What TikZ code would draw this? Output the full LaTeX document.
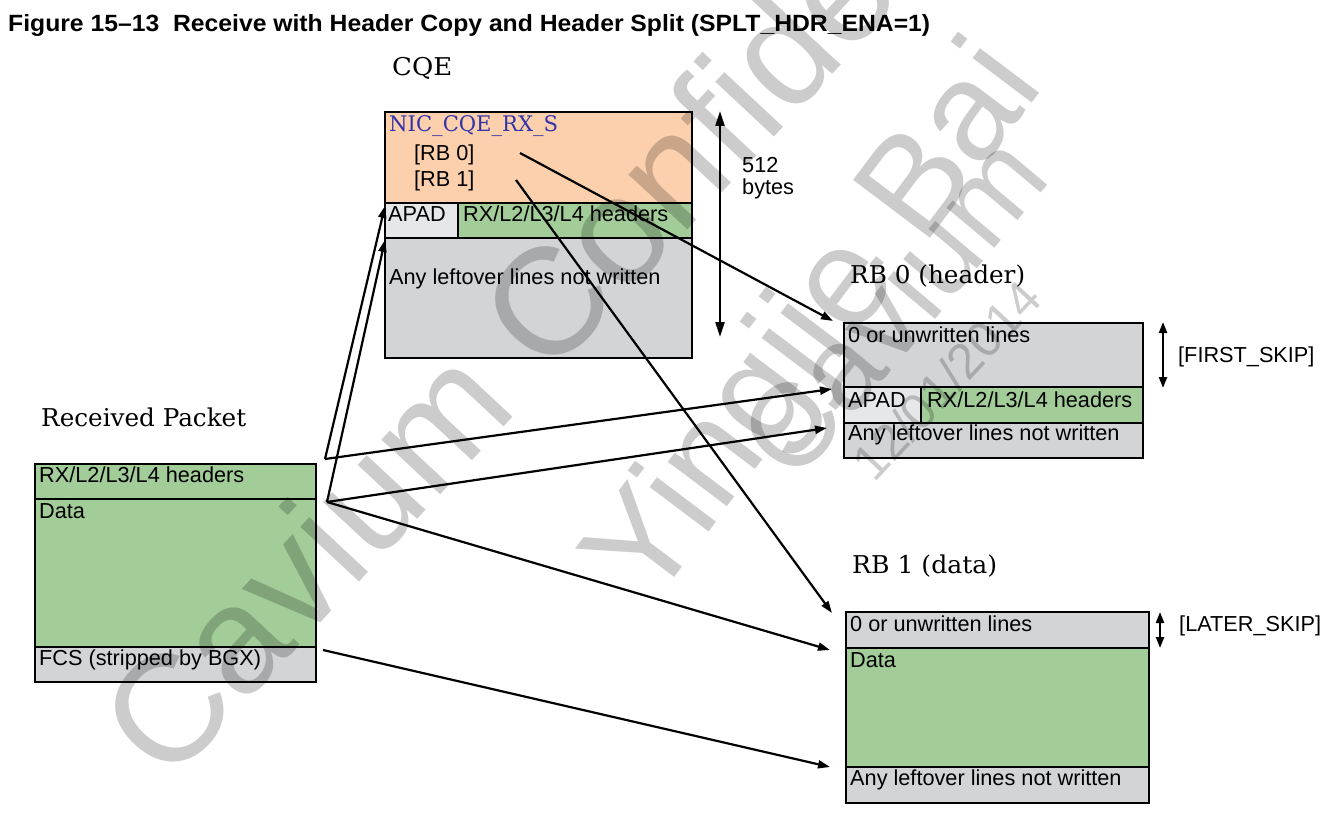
\documentclass[tikz,border=0pt]{standalone}
\usepackage{fontspec}
\usepackage{graphicx}
\newfontfamily\sansf{Liberation Sans}
\newfontfamily\serf{DejaVu Serif}
\usetikzlibrary{arrows.meta}
\definecolor{cqorange}{RGB}{252,208,172}
\definecolor{pkgreen}{RGB}{162,204,152}
\definecolor{bxgray}{RGB}{211,212,214}
\definecolor{bxlight}{RGB}{230,231,233}
\definecolor{nicblue}{RGB}{51,51,170}
\begin{document}
\begin{tikzpicture}[x=1pt,y=-1pt,
  rowbox/.style={draw=black, line width=2pt, inner sep=0pt, anchor=north west},
  lbl/.style={anchor=base west, inner sep=0pt, font=\sansf\fontsize{21.7}{26}\selectfont},
  ser/.style={anchor=base west, inner sep=0pt, font=\serf\fontsize{24.5}{30}\selectfont},
  ttl/.style={anchor=base west, inner sep=0pt, font=\sansf\bfseries\fontsize{23.5}{28}\selectfont},
  arr/.style={line width=2.2pt, -{Triangle[length=12pt,width=8pt]}},
  dblarr/.style={line width=2.2pt, {Triangle[length=15pt,width=9pt]}-{Triangle[length=15pt,width=9pt]}},
  smarr/.style={line width=2.2pt, {Triangle[length=11pt,width=8pt]}-{Triangle[length=11pt,width=8pt]}},
  wm/.style={text=black, text opacity=0.2, anchor=base west, inner sep=0pt}]
\useasboundingbox (0,0) rectangle (1343,818);
\fill[white] (0,0) rectangle (1343,818);

% title
\node[ttl] (title) at (8,32) {\resizebox{922pt}{\height}{Figure 15\textendash 13\ \ Receive with Header Copy and Header Split (SPLT\_HDR\_ENA=1)}};

% ---------- CQE ----------
\node[ser] (lcqe) at (392,76) {\resizebox{60pt}{\height}{CQE}};
\node[rowbox, fill=cqorange, minimum width=307pt, minimum height=91pt] (cqh) at (384,111) {};
\node[rowbox, fill=bxlight, minimum width=73pt, minimum height=35pt] (cqa) at (384,202) {};
\node[rowbox, fill=pkgreen, minimum width=234pt, minimum height=35pt] (cqr) at (457,202) {};
\node[rowbox, fill=bxgray, minimum width=307pt, minimum height=120pt] (cql) at (384,237) {};
\node[ser, text=nicblue, font=\serf\fontsize{21.5}{28}\selectfont] (tnic) at (389,132) {\resizebox{169pt}{\height}{NIC\_CQE\_RX\_S}};
\node[lbl] (trb0) at (414,161) {[RB 0]};
\node[lbl] (trb1) at (414,187) {[RB 1]};
\node[lbl] (tcqa) at (388,222) {APAD};
\node[lbl] (tcqr) at (463,222) {RX/L2/L3/L4 headers};
\node[lbl] (tcql) at (389,284) {Any leftover lines not written};
\coordinate (b512t) at (720,111);
\coordinate (b512b) at (720,337);
\draw[dblarr] (b512t) -- (b512b);
\node[lbl] (t512) at (742,173) {512};
\node[lbl] (tbytes) at (742,195) {bytes};

% ---------- RB0 ----------
\node[ser] (lrb0) at (850,283) {\resizebox{175pt}{\height}{RB 0 (header)}};
\node[rowbox, fill=bxgray, minimum width=299pt, minimum height=64pt] (r0u) at (843,322) {};
\node[rowbox, fill=bxlight, minimum width=77pt, minimum height=36pt] (r0a) at (843,386) {};
\node[rowbox, fill=pkgreen, minimum width=222pt, minimum height=36pt] (r0h) at (920,386) {};
\node[rowbox, fill=bxgray, minimum width=299pt, minimum height=35pt] (r0l) at (843,422) {};
\node[lbl] (tr0u) at (848,342) {0 or unwritten lines};
\node[lbl] (tr0a) at (848,407) {APAD};
\node[lbl] (tr0h) at (927,407) {RX/L2/L3/L4 headers};
\node[lbl] (tr0l) at (848,440) {Any leftover lines not written};
\coordinate (fst) at (1163,322);
\coordinate (fsb) at (1163,388);
\draw[smarr] (fst) -- (fsb);
\node[lbl] (tfs) at (1178,362) {[FIRST\_SKIP]};

% ---------- Received packet ----------
\node[ser] (lpk) at (41,426) {\resizebox{205pt}{\height}{Received Packet}};
\node[rowbox, fill=pkgreen, minimum width=281pt, minimum height=35pt] (pkh) at (34,463) {};
\node[rowbox, fill=pkgreen, minimum width=281pt, minimum height=148pt] (pkd) at (34,498) {};
\node[rowbox, fill=bxgray, minimum width=281pt, minimum height=35pt] (pkf) at (34,646) {};
\node[lbl] (tpkh) at (39,482) {RX/L2/L3/L4 headers};
\node[lbl] (tpkd) at (39,518) {Data};
\node[lbl] (tpkf) at (39,665) {FCS (stripped by BGX)};

% ---------- RB1 ----------
\node[ser] (lrb1) at (852,573) {\resizebox{145pt}{\height}{RB 1 (data)}};
\node[rowbox, fill=bxgray, minimum width=303pt, minimum height=36pt] (r1u) at (845,611) {};
\node[rowbox, fill=pkgreen, minimum width=303pt, minimum height=119pt] (r1d) at (845,647) {};
\node[rowbox, fill=bxgray, minimum width=303pt, minimum height=36pt] (r1l) at (845,766) {};
\node[lbl] (tr1u) at (850,631) {0 or unwritten lines};
\node[lbl] (tr1d) at (850,667) {Data};
\node[lbl] (tr1l) at (850,785) {Any leftover lines not written};
\coordinate (lst) at (1160,612);
\coordinate (lsb) at (1160,648);
\draw[smarr] (lst) -- (lsb);
\node[lbl] (tls) at (1179,631) {[LATER\_SKIP]};

% ---------- connectors ----------
\coordinate (s1) at (325,459);
\coordinate (s2) at (327,502);
\coordinate (s3) at (323,650);
\coordinate (c0) at (520,153);
\coordinate (c1) at (516,180);
\coordinate (t1) at (385,206);
\coordinate (t2) at (385,240);
\coordinate (t3) at (832,389);
\coordinate (t4) at (827,428);
\coordinate (t5) at (830,650);
\coordinate (t6) at (830,767);
\coordinate (t7) at (833,321);
\coordinate (t8) at (832,613);
\draw[arr] (s1) -- (t1);
\draw[arr] (s2) -- (t2);
\draw[arr] (s1) -- (t3);
\draw[arr] (s2) -- (t4);
\draw[arr] (s2) -- (t5);
\draw[arr] (s3) -- (t6);
\draw[arr] (c0) -- (t7);
\draw[arr] (c1) -- (t8);

% ---------- watermark ----------
\node[wm, font=\sansf\fontsize{152}{152}\selectfont, rotate=47] (wm1) at (168,787) {Cavium Confidential};
\node[wm, font=\sansf\fontsize{140}{140}\selectfont, rotate=53] (wm2) at (650,610) {Yingjie Bai};
\node[wm, font=\sansf\fontsize{118}{118}\selectfont, rotate=50] (wm3) at (795,486) {Cavium};
\node[wm, font=\sansf\fontsize{50}{50}\selectfont, rotate=47] (wm4) at (874,484) {12/01/2014};
\end{tikzpicture}
\end{document}
